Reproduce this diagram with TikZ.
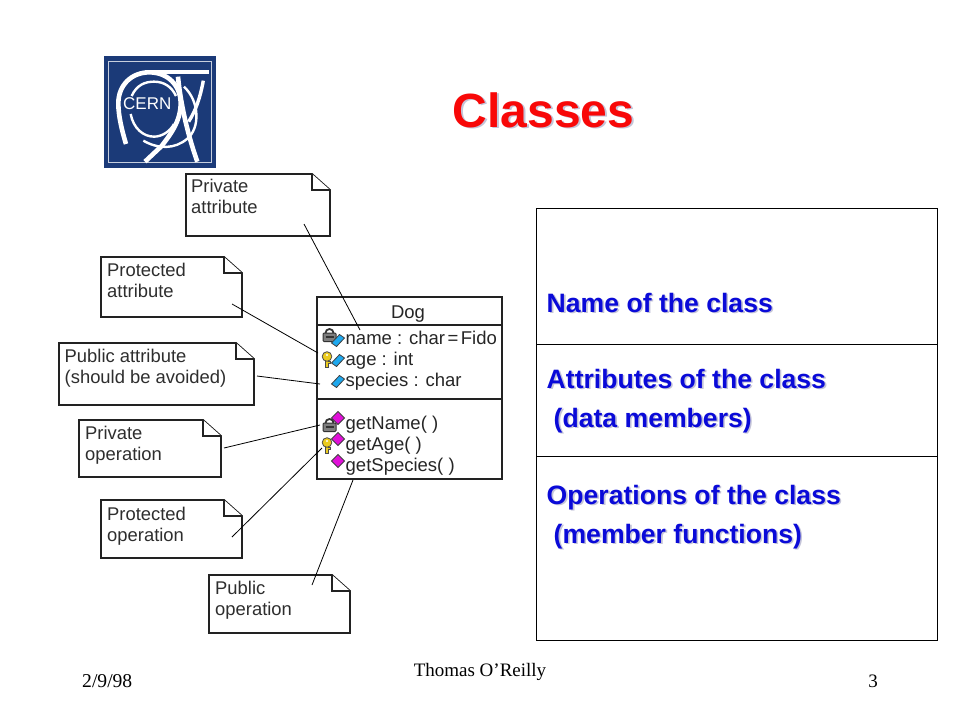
\documentclass[tikz,border=0pt]{standalone}
\usepackage{fontspec}
\setmainfont{Liberation Sans}
\newfontfamily\timesfont{Liberation Serif}
\definecolor{noteink}{HTML}{2E2E2E}
\definecolor{boxline}{HTML}{222222}
\definecolor{headblue}{HTML}{0A0AD8}
\definecolor{shadowgrey}{HTML}{C4C4D8}
\definecolor{titlered}{HTML}{F80808}
\definecolor{cernblue}{HTML}{1B3A78}
\definecolor{attrblue}{HTML}{1EA8EE}
\definecolor{opmagenta}{HTML}{E010D8}
\definecolor{keygold}{HTML}{EBCB1E}
\definecolor{lockgrey}{HTML}{7E7E7E}
\tikzset{
  notebody/.style={draw=boxline,fill=white,line width=1.8pt,line join=miter},
  notetext/.style={anchor=base west,inner sep=0pt,text=noteink,font=\fontsize{18.4}{18.4}\selectfont},
  umltext/.style={anchor=base west,inner sep=0pt,text=black!85,font=\fontsize{18.5}{18.5}\selectfont},
  leader/.style={draw=black,line width=0.8pt},
  umlbox/.style={draw=boxline,line width=1.9pt,fill=white,inner sep=0pt,outer sep=0pt},
  panel/.style={draw=black,line width=0.9pt,fill=white,inner sep=0pt,outer sep=0pt},
  bluetext/.style={anchor=base west,inner sep=0pt,text=headblue,font=\fontsize{26.6}{26.6}\selectfont\bfseries},
  blueshadow/.style={anchor=base west,inner sep=0pt,text=shadowgrey,font=\fontsize{26.6}{26.6}\selectfont\bfseries},
  foot/.style={inner sep=0pt,anchor=base,text=black,font=\fontsize{19}{19}\selectfont\timesfont},
  logostroke/.style={draw=white,line cap=butt},
}
\newcommand{\notebox}[9]{%
  \draw[notebody] (#2,#3) -- (#4-18,#3) -- (#4,#3+16) -- (#4,#5) -- (#2,#5) -- cycle;
  \draw[notebody] (#4-18,#3) -- (#4-18,#3+16) -- (#4,#3+16);
  \node[notetext] (#1a) at (#8,#9) {#6};
  \node[notetext] (#1b) at (#8,#9+21) {#7};
}
\newcommand{\bluehead}[4]{%
  \node[blueshadow] at (#2+1.6,#3+1.6) {#4};
  \node[bluetext] (#1) at (#2,#3) {#4};
}
\newcommand{\attrmark}[2]{%
  \draw[fill=attrblue,draw=black!75,line width=0.8pt] (#1-6.5,#2+2) -- (#1+1.5,#2-6.5) -- (#1+6.5,#2-3) -- (#1-1.5,#2+5.5) -- cycle;
}
\newcommand{\opmark}[2]{%
  \draw[fill=opmagenta,draw=black!75,line width=0.8pt] (#1-6.5,#2) -- (#1,#2-6.5) -- (#1+6.5,#2) -- (#1,#2+6.5) -- cycle;
}
\newcommand{\lockmark}[2]{%
  \draw[draw=black!80,line width=1.8pt] (#1-4,#2) arc[start angle=180,end angle=360,radius=4];
  \draw[fill=lockgrey,draw=black!80,line width=1pt,rounded corners=1pt] (#1-6.5,#2) rectangle (#1+6.5,#2+8.5);
  \draw[draw=black!80,line width=1.1pt] (#1-4,#2+4) -- (#1+4,#2+4);
}
\newcommand{\keymark}[2]{%
  \draw[fill=keygold,draw=black!70,line width=0.8pt] (#1-1.5,#2+1) -- (#1+1.5,#2+1) -- (#1+1.5,#2+3) -- (#1+3.5,#2+3) -- (#1+3.5,#2+5.5) -- (#1+1.5,#2+5.5) -- (#1+1.5,#2+9) -- (#1-1.5,#2+9) -- cycle;
  \draw[fill=keygold,draw=black!70,line width=0.8pt] (#1,#2-1.5) circle[radius=4.8];
  \fill[white] (#1,#2-3) circle[radius=1.1];
}
\begin{document}
\begin{tikzpicture}[x=1pt,y=-1pt]
\useasboundingbox (0,0) rectangle (960,720);
\fill[white] (0,0) rectangle (960,720);

% CERN logo (drawn in 3x zoom coordinates)
\fill[cernblue] (104,56) rectangle (216,168);
\draw[white!75!cernblue,line width=1pt] (108,61) rectangle (211,162);
\begin{scope}[shift={(90,40)},x=0.3333pt,y=-0.3333pt]
  \draw[logostroke,line width=4pt] (165,95) -- (358,95);
  \draw[logostroke,line width=4.6pt] (108,312) .. controls (97,275) and (85,230) .. (85,190) .. controls (85,135) and (125,97) .. (178,97) .. controls (232,97) and (272,135) .. (272,190) .. controls (272,245) and (240,285) .. (215,318) -- (165,365);
  \draw[logostroke,line width=2.4pt] (125,168) .. controls (140,135) and (165,125) .. (192,125) .. controls (222,125) and (245,140) .. (258,168);
  \draw[logostroke,line width=2.4pt] (122,222) .. controls (130,265) and (160,290) .. (192,290) .. controls (215,290) and (240,275) .. (252,252);
  \draw[logostroke,line width=3.4pt] (340,122) .. controls (330,175) and (318,210) .. (296,245);
  \draw[logostroke,line width=4.6pt] (264,110) .. controls (272,195) and (295,290) .. (322,365);
  \draw[logostroke,line width=2.4pt] (282,140) .. controls (330,185) and (330,265) .. (292,296) .. controls (255,328) and (205,328) .. (160,302);
\end{scope}
\node[inner sep=0pt,text=white,font=\fontsize{17}{17}\selectfont,anchor=center] (cern) at (147.3,104) {CERN};

% Title
\node[inner sep=0pt,anchor=base,text=shadowgrey,font=\fontsize{48}{48}\selectfont\bfseries] at (545.5,128.5) {Classes};
\node[inner sep=0pt,anchor=base,text=titlered,font=\fontsize{48}{48}\selectfont\bfseries] (title) at (543.5,127) {Classes};

% Notes
\notebox{privattr}{186}{174}{330}{236}{Private}{attribute}{191}{192.5}
\notebox{protattr}{101}{257}{242}{317}{Protected}{attribute}{107}{276.5}
\notebox{pubattr}{59}{343}{254}{405}{Public attribute}{(should be avoided)}{64.5}{362}
\notebox{privop}{79}{420}{221}{477}{Private}{operation}{85}{439.5}
\notebox{protop}{101}{500}{242}{558}{Protected}{operation}{107}{520}
\notebox{pubop}{209}{575}{350}{633}{Public}{operation}{215}{594.5}

% UML class
\node[umlbox,minimum width=185pt,minimum height=28pt,anchor=north west] (dogname) at (317.3,296.8) {};
\node[umlbox,minimum width=185pt,minimum height=74.5pt,anchor=north west] (dogattr) at (317.3,324.8) {};
\node[umlbox,minimum width=185pt,minimum height=80pt,anchor=north west] (dogops) at (317.3,399.3) {};
\node[anchor=base,inner sep=0pt,text=black!85,font=\fontsize{18.5}{18.5}\selectfont] (dog) at (408,318) {Dog};
\node[umltext] (t1) at (345.5,344) {name : char\hspace{2.5pt}=\hspace{2.5pt}Fido};
\node[umltext] (t2) at (345.5,365) {age : int};
\node[umltext] (t3) at (345.5,386) {species : char};
\node[umltext] (t4) at (345.5,429) {getName( )};
\node[umltext] (t5) at (345.5,450) {getAge( )};
\node[umltext] (t6) at (345.5,471) {getSpecies( )};

\lockmark{329.5}{333}
\attrmark{338}{341}
\keymark{327}{358}
\attrmark{338}{361}
\attrmark{338}{382}
\opmark{338}{418}
\lockmark{329.5}{423}
\opmark{338}{439}
\keymark{327}{444}
\opmark{338}{461}

% Leaders
\coordinate (e1) at (304,224);  \coordinate (f1) at (360,330);
\coordinate (e2) at (232,304);  \coordinate (f2) at (318,353);
\coordinate (e3) at (257,376);  \coordinate (f3) at (320,384);
\coordinate (e4) at (224,448);  \coordinate (f4) at (320,425);
\coordinate (e5) at (232,537);  \coordinate (f5) at (322,448);
\coordinate (e6) at (312,585);  \coordinate (f6) at (353,480);
\draw[leader] (e1) -- (f1);
\draw[leader] (e2) -- (f2);
\draw[leader] (e3) -- (f3);
\draw[leader] (e4) -- (f4);
\draw[leader] (e5) -- (f5);
\draw[leader] (e6) -- (f6);

% Right panel
\node[panel,minimum width=401pt,minimum height=136pt,anchor=north west] (pname) at (536,208) {};
\node[panel,minimum width=401pt,minimum height=112pt,anchor=north west] (pattr) at (536,344) {};
\node[panel,minimum width=401pt,minimum height=184pt,anchor=north west] (pops) at (536,456) {};
\bluehead{h1}{546.5}{312}{Name of the class}
\bluehead{h2}{546.5}{388}{Attributes of the class}
\bluehead{h3}{553.5}{427}{(data members)}
\bluehead{h4}{546.5}{504}{Operations of the class}
\bluehead{h5}{553.5}{543}{(member functions)}

% Footer
\node[foot,anchor=base west,font=\fontsize{19.6}{19.6}\selectfont\timesfont] (date) at (82,687) {2/9/98};
\node[foot] (author) at (480,676) {Thomas O’Reilly};
\node[foot] (page) at (873,687) {3};
\end{tikzpicture}
\end{document}
